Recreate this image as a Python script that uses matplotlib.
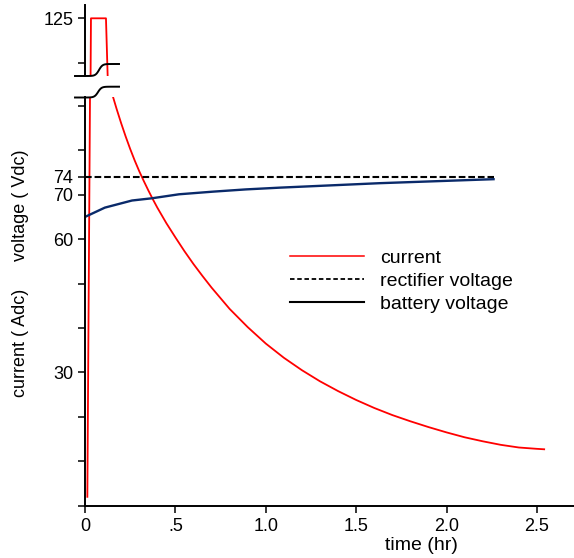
import numpy as np
import matplotlib
matplotlib.use('Agg')
import matplotlib.pyplot as plt
from matplotlib.lines import Line2D

plt.rcParams['font.family'] = ['Liberation Sans', 'DejaVu Sans']

# data
current_t = [0.013, 0.033, 0.116, 0.138, 0.15, 0.175, 0.20, 0.225, 0.25, 0.275, 0.30,
             0.325, 0.35, 0.375, 0.40, 0.45, 0.50, 0.55, 0.60, 0.65, 0.70, 0.75, 0.80,
             0.90, 1.00, 1.10, 1.20, 1.30, 1.40, 1.50, 1.60, 1.70, 1.80, 1.90, 2.00,
             2.10, 2.20, 2.30, 2.40, 2.50, 2.54]
current_a = [2.0, 125, 125, 94.4, 92.7, 89.3, 86.1, 83.1, 80.3, 77.7, 75.3,
             73.1, 71.0, 69.0, 67.1, 63.6, 60.4, 57.3, 54.4, 51.7, 49.1, 46.7, 44.3,
             40.2, 36.5, 33.3, 30.5, 28.0, 25.8, 23.8, 22.0, 20.4, 19.0, 17.7, 16.5,
             15.4, 14.5, 13.7, 13.1, 12.8, 12.7]

battery_t = [0.005, 0.11, 0.26, 0.37, 0.52, 0.71, 0.89, 1.08, 1.63, 2.26]
battery_v = [65.1, 67.1, 68.7, 69.2, 70.1, 70.7, 71.2, 71.6, 72.6, 73.5]

rectifier_t = [0.0, 2.26]
rectifier_v = [74, 74]

xticks = [0, 0.5, 1.0, 1.5, 2.0, 2.5]
xticklabels = ['0', '.5', '1.0', '1.5', '2.0', '2.5']
yticks = [0, 10, 20, 30, 40, 50, 60, 70, 74, 80, 90]
yticklabels = ['', '', '', '30', '', '', '60', '70', '74', '', '']
top_yticks = [115, 125]
top_yticklabels = ['', '125']

W, H = 574, 558
fig = plt.figure(figsize=(W / 100, H / 100), dpi=100)

def fx(px):
    return px / W

def fy(py):
    return 1 - py / H

red = '#ff0000'
navy = '#0a2a6a'

ax = fig.add_axes([fx(85), fy(505.7), fx(574) - fx(85), fy(97) - fy(505.7)])
top = fig.add_axes([fx(85), fy(76), fx(574) - fx(85), fy(5) - fy(76)], sharex=ax)

for a in (ax, top):
    a.plot(current_t, current_a, color=red, lw=1.3)
    a.plot(rectifier_t, rectifier_v, color='black', lw=1.5, ls=(0, (3.2, 1.4)))
    a.plot(battery_t, battery_v, color=navy, lw=1.7)
    a.spines['right'].set_visible(False)
    a.spines['left'].set_linewidth(1.4)
    a.spines['bottom'].set_linewidth(1.4)
    a.tick_params(direction='out', length=5, width=1.1, labelsize=13, pad=3.5)

ax.spines['top'].set_visible(False)
top.spines['top'].set_visible(False)
top.spines['bottom'].set_visible(False)
top.tick_params(axis='x', bottom=False, labelbottom=False)

ax.set_xlim(0, 2.705)
ax.set_ylim(0, 92)
top.set_ylim(112, 128)

ax.set_xticks(xticks)
ax.set_xticklabels(xticklabels)
ax.set_yticks(yticks)
ax.set_yticklabels(yticklabels)
top.set_yticks(top_yticks)
top.set_yticklabels(top_yticklabels)

# break marks on the y axis
xs = np.linspace(75, 119, 60)
ys_top = 76 - 12 * (1 + np.tanh((xs - 99) / 3.5)) / 2
ys_bot = 97.5 - 10.8 * (1 + np.tanh((xs - 98) / 3.5)) / 2
for ys in (ys_top, ys_bot):
    fig.add_artist(Line2D(fx(xs), fy(ys), transform=fig.transFigure,
                          color='black', lw=1.4))

fig.text(fx(421), fy(546), 'time (hr)', ha='center', va='center', fontsize=14)
fig.text(fx(21), fy(205), 'voltage ( Vdc)', rotation=90, ha='center', va='center', fontsize=13)
fig.text(fx(21), fy(343), 'current ( Adc)', rotation=90, ha='center', va='center', fontsize=13)

handles = [Line2D([], [], color=red, lw=1.1),
           Line2D([], [], color='black', lw=1.3, ls=(0, (2.5, 1.5))),
           Line2D([], [], color='black', lw=1.5)]
labels = ['current', 'rectifier voltage', 'battery voltage']
fig.legend(handles, labels, loc='upper left', bbox_to_anchor=(fx(290), fy(249)),
           frameon=False, fontsize=14, handlelength=3.8, handletextpad=0.85,
           labelspacing=0.28, borderpad=0, borderaxespad=0)

fig.savefig('out.png', dpi=100)
